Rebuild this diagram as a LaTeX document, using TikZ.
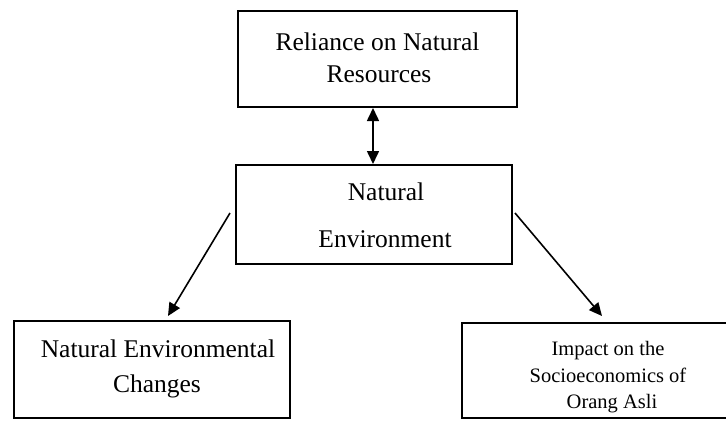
\documentclass[tikz,border=0pt]{standalone}
\usepackage{fontspec}
\setmainfont{Liberation Serif}
\usetikzlibrary{arrows.meta}
\begin{document}
\begin{tikzpicture}[x=1pt,y=-1pt,
  box/.style={draw=black, line width=2pt, rectangle, inner sep=0pt},
  big/.style={anchor=base, inner sep=0pt, font=\fontsize{25.5}{30}\selectfont},
  small/.style={anchor=base, inner sep=0pt, font=\fontsize{20.5}{24}\selectfont},
  arr/.style={line width=1.6pt, -{Triangle[length=13pt,width=12pt]}},
  darr/.style={line width=1.6pt, {Triangle[length=13pt,width=12pt]}-{Triangle[length=13pt,width=12pt]}}]
\useasboundingbox (0,0) rectangle (726,421);
\fill[white] (0,0) rectangle (726,421);
% boxes
\node[box, minimum width=279pt, minimum height=96pt] (top) at (377.5,59) {};
\node[box, minimum width=276pt, minimum height=99pt] (mid) at (374,214.5) {};
\node[box, minimum width=276pt, minimum height=97pt] (bl) at (152,369.5) {};
\node[box, minimum width=272pt, minimum height=95pt] (br) at (598,370.5) {};
% texts
\node[big] (t1) at (377.5,50) {Reliance on Natural};
\node[big] (t2) at (379,82) {Resources};
\node[big] (m1) at (386,200) {Natural};
\node[big] (m2) at (385,247) {Environment};
\node[big] (l1) at (158,357) {Natural Environmental};
\node[big] (l2) at (157,392) {Changes};
\node[small] (r1) at (608,355) {Impact on the};
\node[small] (r2) at (608,382) {Socioeconomics of};
\node[small] (r3) at (612,408) {Orang Asli};
% connectors
\draw[darr] ([xshift=-4.5pt]top.south) -- ([xshift=-1pt]mid.north);
\draw[arr] ([xshift=-5pt,yshift=1.5pt]mid.west) -- ([xshift=16pt,yshift=4pt]bl.north);
\draw[arr] ([xshift=2pt,yshift=1.5pt]mid.east) -- ([xshift=4pt,yshift=6pt]br.north);
\end{tikzpicture}
\end{document}
